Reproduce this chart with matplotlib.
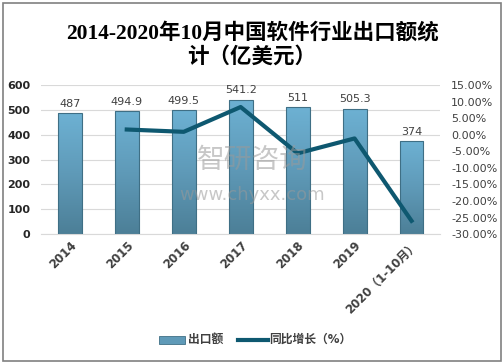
"""Chart of China software export value 2014-2020 with YoY growth line."""

import numpy as np
import matplotlib.pyplot as plt
from matplotlib.patches import Rectangle

plt.rcParams['font.family'] = ['DejaVu Sans', 'Noto Sans CJK SC']

years = ['2014', '2015', '2016', '2017', '2018', '2019', '2020（1-10月）']
exports = [487, 494.9, 499.5, 541.2, 511, 505.3, 374]
growth = [None, 1.6, 0.9, 8.4, -5.6, -1.1, -26.0]
value_labels = ['487', '494.9', '499.5', '541.2', '511', '505.3', '374']

fig = plt.figure(figsize=(5.04, 3.64), dpi=100)
ax = fig.add_axes([0.082, 0.357, 0.791, 0.409])
ax2 = ax.twinx()

x = np.arange(len(years))
width = 0.42

# gradient bars
grad = np.linspace(0, 1, 256).reshape(-1, 1)
cmap = plt.matplotlib.colors.LinearSegmentedColormap.from_list(
    'bar', ['#4c7f97', '#5f9ab8', '#6db1d3'])
bars = ax.bar(x, exports, width, color='none', edgecolor='#3f6f85',
              linewidth=0.8, zorder=3)
for b in bars:
    im = ax.imshow(grad, cmap=cmap, aspect='auto', origin='lower',
                   extent=[b.get_x(), b.get_x() + b.get_width(), 0, b.get_height()],
                   zorder=2)
    im.set_clip_path(b)

for xi, v, lab in zip(x, exports, value_labels):
    ax.text(xi, v + 18, lab, ha='center', va='bottom', fontsize=8, color='#404040')

ax.set_xlim(-0.5, len(years) - 0.5)
ax.set_ylim(0, 600)
ax.set_yticks(range(0, 601, 100))
ax.grid(axis='y', color='#d9d9d9', linewidth=0.8, zorder=0)
ax.set_axisbelow(True)
for s in ax.spines.values():
    s.set_visible(False)
for s in ax2.spines.values():
    s.set_visible(False)
ax.spines['bottom'].set_visible(True)
ax.spines['bottom'].set_color('#d9d9d9')
ax.tick_params(axis='both', length=0)
ax.tick_params(axis='y', labelsize=8, labelcolor='#262626', pad=8)
for t in ax.get_yticklabels():
    t.set_fontweight('bold')
ax.set_xticks(x)
ax.set_xticklabels(years, rotation=45, ha='right', rotation_mode='anchor',
                   fontsize=8.5, fontweight='bold', color='#404040')

gx = [xi for xi, g in zip(x, growth) if g is not None]
gy = [g for g in growth if g is not None]
ax2.plot(gx, gy, color='#0e5870', linewidth=3, zorder=5, label='同比增长（%）')
ax2.set_ylim(-30, 15)
ax2.set_yticks(range(-30, 16, 5))
ax2.set_yticklabels(['%.2f%%' % v for v in range(-30, 16, 5)])
ax2.tick_params(axis='y', length=0, labelsize=8, labelcolor='#404040', pad=8)

ax.set_zorder(ax2.get_zorder() - 1)
ax2.patch.set_visible(False)

title_family = ['Liberation Serif', 'Noto Sans CJK SC']
fig.text(0.5, 0.908, '2014-2020年10月中国软件行业出口额统', ha='center', va='center',
         fontsize=15.5, fontweight='bold', family=title_family)
fig.text(0.5, 0.842, '计（亿美元）', ha='center', va='center',
         fontsize=15.5, fontweight='bold', family=title_family)

# watermark
fig.text(0.5, 0.56, '智研咨询', ha='center', va='center', fontsize=20,
         color='#9a9a9a', alpha=0.55, family=['Noto Sans CJK SC'])
fig.text(0.5, 0.465, 'www.chyxx.com', ha='center', va='center', fontsize=13,
         color='#9a9a9a', alpha=0.55)

# legend
lx = 0.315
fig.patches.append(Rectangle((lx, 0.056), 0.052, 0.022, transform=fig.transFigure,
                             facecolor='#5f9ab8', edgecolor='#3f6f85', linewidth=0.6))
fig.text(lx + 0.058, 0.067, '出口额', ha='left', va='center', fontsize=8.5,
         fontweight='bold', color='#404040')
fig.lines.append(plt.Line2D([0.473, 0.532], [0.067, 0.067], transform=fig.transFigure,
                            color='#0e5870', linewidth=3))
fig.text(0.534, 0.067, '同比增长（%）', ha='left', va='center', fontsize=8.5,
         fontweight='bold', color='#404040')

# outer border
fig.patches.append(Rectangle((0.006, 0.008), 0.988, 0.984, transform=fig.transFigure,
                             fill=False, edgecolor='#808080', linewidth=1.2))

fig.savefig('out.png', dpi=100)
